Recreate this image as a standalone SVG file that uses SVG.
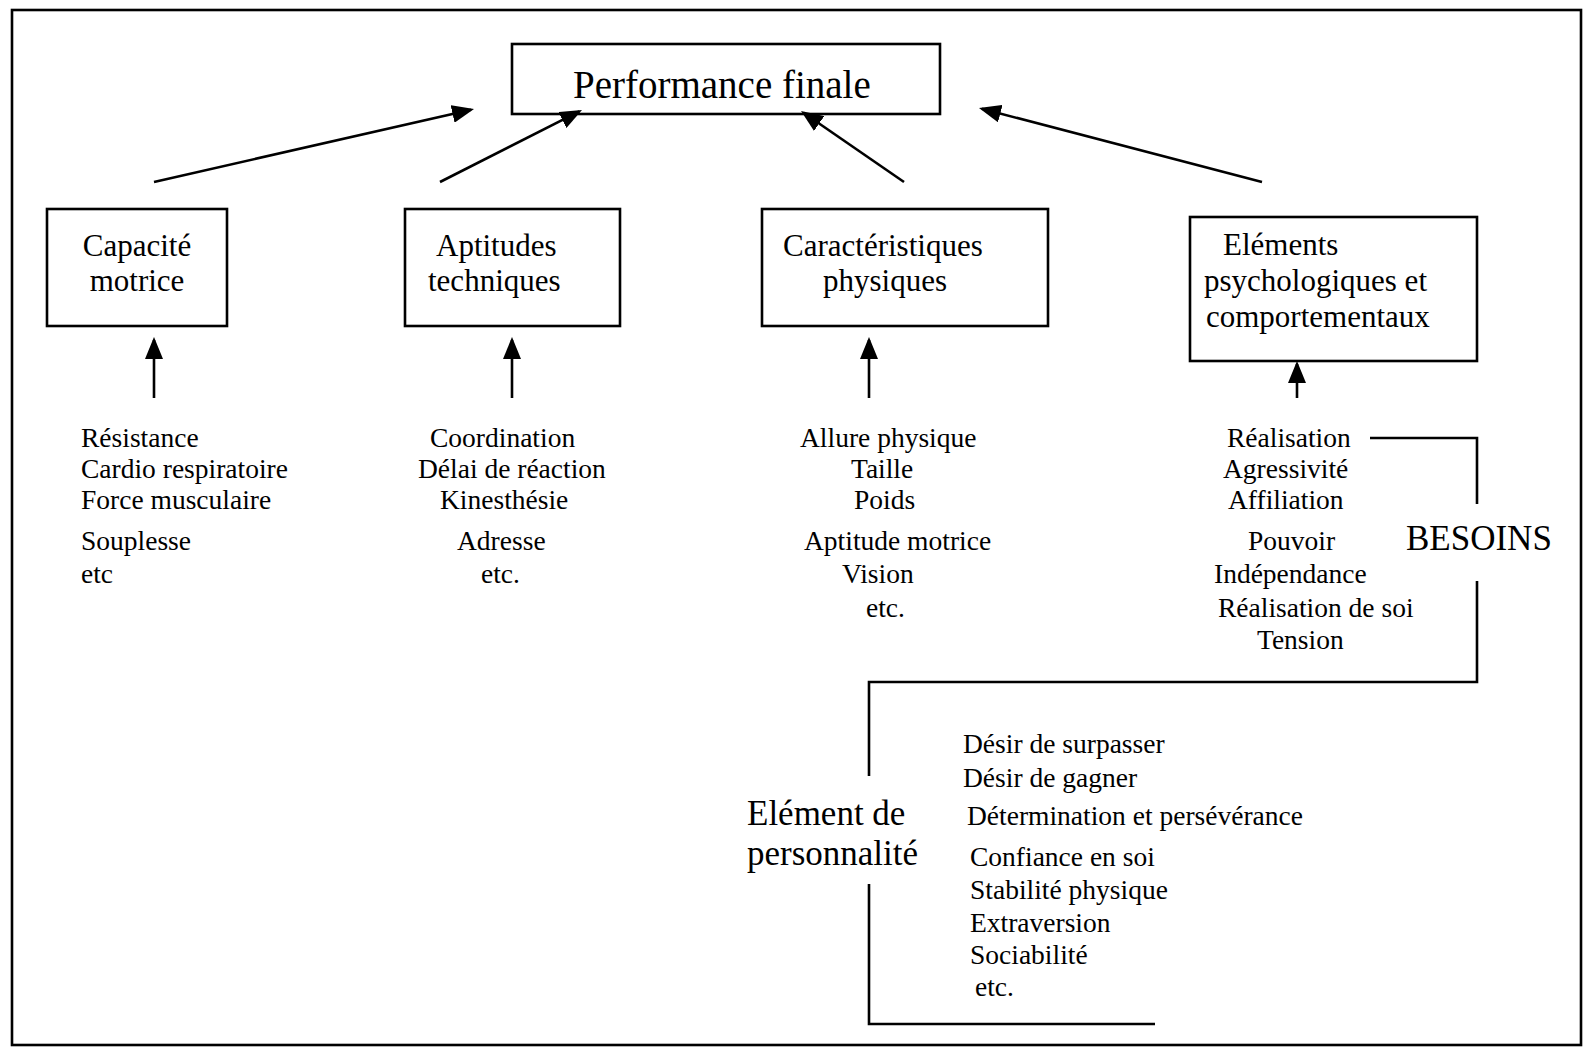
<svg xmlns="http://www.w3.org/2000/svg" width="1589" height="1048" viewBox="0 0 1589 1048">
<style>
  text { font-family: "Liberation Serif", "Times New Roman", serif; fill: #000; }
  .box { fill: #fff; stroke: #000; stroke-width: 2.6; }
  .conn { fill: none; stroke: #000; stroke-width: 2.6; }
  .title { font-size: 39px; }
  .lbl { font-size: 31px; }
  .item { font-size: 27.5px; }
  .big { font-size: 35px; }
  .mid { text-anchor: middle; }
</style>
<defs>
  <marker id="ah" markerUnits="userSpaceOnUse" markerWidth="22" markerHeight="18" refX="19" refY="9" orient="auto">
    <path d="M0,0 L22,9 L0,18 z" fill="#000"/>
  </marker>
</defs>
<rect x="0" y="0" width="1589" height="1048" fill="#fff"/>
<rect id="frame" x="12" y="10" width="1569" height="1035" fill="none" stroke="#000" stroke-width="2.6"/>

<g id="performance-finale">
  <rect class="box" x="512" y="44" width="428" height="70"/>
  <text class="title" x="573" y="98">Performance finale</text>
</g>

<g id="capacite-motrice">
  <rect class="box" x="47" y="209" width="180" height="117"/>
  <text class="lbl mid" x="137" y="256">Capacité</text>
  <text class="lbl mid" x="137" y="291">motrice</text>
</g>

<g id="aptitudes-techniques">
  <rect class="box" x="405" y="209" width="215" height="117"/>
  <text class="lbl" x="436" y="256">Aptitudes</text>
  <text class="lbl" x="428" y="291">techniques</text>
</g>

<g id="caracteristiques-physiques">
  <rect class="box" x="762" y="209" width="286" height="117"/>
  <text class="lbl" x="783" y="256">Caractéristiques</text>
  <text class="lbl" x="823" y="291">physiques</text>
</g>

<g id="elements-psychologiques">
  <rect class="box" x="1190" y="217" width="287" height="144"/>
  <text class="lbl" x="1223" y="255">Eléments</text>
  <text class="lbl" x="1204" y="291">psychologiques et</text>
  <text class="lbl" x="1206" y="327">comportementaux</text>
</g>

<g id="liste-capacite">
  <text class="item" x="81" y="447">Résistance</text>
  <text class="item" x="81" y="478">Cardio respiratoire</text>
  <text class="item" x="81" y="509">Force musculaire</text>
  <text class="item" x="81" y="550">Souplesse</text>
  <text class="item" x="81" y="583">etc</text>
</g>

<g id="liste-aptitudes">
  <text class="item" x="430" y="447">Coordination</text>
  <text class="item" x="418" y="478">Délai de réaction</text>
  <text class="item" x="440" y="509">Kinesthésie</text>
  <text class="item" x="457" y="550">Adresse</text>
  <text class="item" x="481" y="583">etc.</text>
</g>

<g id="liste-caracteristiques">
  <text class="item" x="800" y="447">Allure physique</text>
  <text class="item" x="851" y="478">Taille</text>
  <text class="item" x="854" y="509">Poids</text>
  <text class="item" x="804" y="550">Aptitude motrice</text>
  <text class="item" x="842" y="583">Vision</text>
  <text class="item" x="866" y="617">etc.</text>
</g>

<g id="liste-besoins">
  <text class="item" x="1227" y="447">Réalisation</text>
  <text class="item" x="1223" y="478">Agressivité</text>
  <text class="item" x="1228" y="509">Affiliation</text>
  <text class="item" x="1248" y="550">Pouvoir</text>
  <text class="item" x="1214" y="583">Indépendance</text>
  <text class="item" x="1218" y="617">Réalisation de soi</text>
  <text class="item" x="1257" y="649">Tension</text>
</g>

<g id="besoins">
  <text class="big" x="1406" y="550">BESOINS</text>
</g>

<g id="element-personnalite">
  <text class="big" x="747" y="825">Elément de</text>
  <text class="big" x="747" y="865">personnalité</text>
</g>

<g id="liste-personnalite">
  <text class="item" x="963" y="753">Désir de surpasser</text>
  <text class="item" x="963" y="787">Désir de gagner</text>
  <text class="item" x="967" y="825">Détermination et persévérance</text>
  <text class="item" x="970" y="866">Confiance en soi</text>
  <text class="item" x="970" y="899">Stabilité physique</text>
  <text class="item" x="970" y="932">Extraversion</text>
  <text class="item" x="970" y="964">Sociabilité</text>
  <text class="item" x="975" y="996">etc.</text>
</g>

<g id="connectors">
  <line class="conn" x1="154" y1="182" x2="471.1" y2="109.7" marker-end="url(#ah)"/>
  <line class="conn" x1="440" y1="182" x2="579.3" y2="111.4" marker-end="url(#ah)"/>
  <line class="conn" x1="904" y1="182" x2="803.5" y2="112.7" marker-end="url(#ah)"/>
  <line class="conn" x1="1262" y1="182" x2="981.9" y2="108.8" marker-end="url(#ah)"/>
  <line class="conn" x1="154" y1="398" x2="154" y2="340" marker-end="url(#ah)"/>
  <line class="conn" x1="512" y1="398" x2="512" y2="340" marker-end="url(#ah)"/>
  <line class="conn" x1="869" y1="398" x2="869" y2="340" marker-end="url(#ah)"/>
  <line class="conn" x1="1297" y1="398" x2="1297" y2="364" marker-end="url(#ah)"/>
  <polyline class="conn" points="1370,438 1477,438 1477,504"/>
  <polyline class="conn" points="1477,581 1477,682 869,682 869,776"/>
  <polyline class="conn" points="869,884 869,1024 1155,1024"/>
</g>
</svg>
